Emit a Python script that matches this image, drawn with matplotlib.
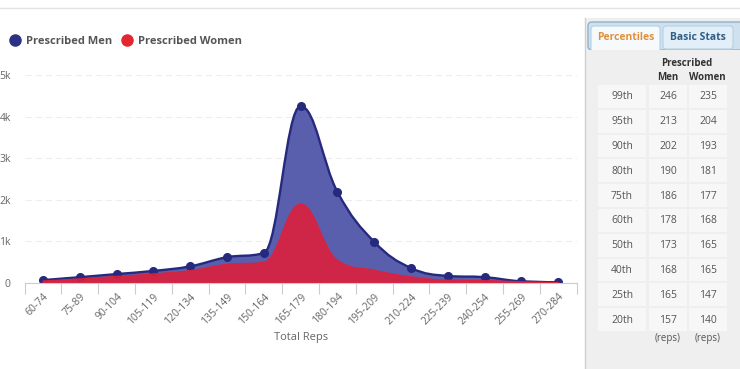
import numpy as np
import matplotlib
matplotlib.use('Agg')
import matplotlib.pyplot as plt
from matplotlib.path import Path
from matplotlib.patches import PathPatch, Rectangle, FancyBboxPatch

plt.rcParams['font.family'] = ['Open Sans', 'DejaVu Sans']

# data
cats = ['60-74', '75-89', '90-104', '105-119', '120-134', '135-149', '150-164',
        '165-179', '180-194', '195-209', '210-224', '225-239', '240-254',
        '255-269', '270-284']
men = [70, 140, 215, 290, 400, 620, 720, 4250, 2190, 990, 360, 170, 140, 40, 20]
women = [50, 100, 160, 220, 300, 450, 500, 1900, 550, 310, 150, 70, 60, 30, 15]
yticks = [0, 1000, 2000, 3000, 4000, 5000]
ytick_labels = ['0', '1k', '2k', '3k', '4k', '5k']

pct_labels = ['99th', '95th', '90th', '80th', '75th', '60th', '50th', '40th', '25th', '20th']
pct_men = [246, 213, 202, 190, 186, 178, 173, 168, 165, 157]
pct_women = [235, 204, 193, 181, 177, 168, 165, 165, 147, 140]

MEN_LINE = '#262a7e'
MEN_FILL = '#5a5fad'
WOM_FILL = '#e01f3a'


def spline_verts(xs, ys, smoothing=1.5):
    # highcharts-like spline: cubic bezier with control points per point
    n = len(xs)
    lc = [(xs[i], ys[i]) for i in range(n)]
    rc = [(xs[i], ys[i]) for i in range(n)]
    d = smoothing + 1
    for i in range(1, n - 1):
        px, py = xs[i], ys[i]
        lx, ly = xs[i - 1], ys[i - 1]
        nx, ny = xs[i + 1], ys[i + 1]
        lcx = (smoothing * px + lx) / d
        lcy = (smoothing * py + ly) / d
        rcx = (smoothing * px + nx) / d
        rcy = (smoothing * py + ny) / d
        corr = ((rcy - lcy) * (rcx - px)) / (rcx - lcx) + py - rcy
        lcy += corr; rcy += corr
        if lcy > ly and lcy > py:
            lcy = max(ly, py); rcy = 2 * py - lcy
        elif lcy < ly and lcy < py:
            lcy = min(ly, py); rcy = 2 * py - lcy
        if rcy > ny and rcy > py:
            rcy = max(ny, py); lcy = 2 * py - rcy
        elif rcy < ny and rcy < py:
            rcy = min(ny, py); lcy = 2 * py - rcy
        lc[i] = (lcx, lcy); rc[i] = (rcx, rcy)
    verts = [(xs[0], ys[0])]
    codes = [Path.MOVETO]
    for i in range(1, n):
        verts += [rc[i - 1], lc[i], (xs[i], ys[i])]
        codes += [Path.CURVE4] * 3
    return verts, codes


def area_patch(xs, ys, **kw):
    v, c = spline_verts(xs, ys)
    fv = v + [(xs[-1], 0), (xs[0], 0), (xs[0], 0)]
    fc = c + [Path.LINETO, Path.LINETO, Path.CLOSEPOLY]
    return PathPatch(Path(fv, fc), **kw)


def line_patch(xs, ys, **kw):
    v, c = spline_verts(xs, ys)
    return PathPatch(Path(v, c), facecolor='none', **kw)


W, H = 740, 369
fig = plt.figure(figsize=(W / 100, H / 100), dpi=100)

# plot area in pixels
x0, x1 = 24.6, 576.6
ytop, ybot = 75, 283
ax = fig.add_axes([x0 / W, 1 - ybot / H, (x1 - x0) / W, (ybot - ytop) / H])
xs = np.arange(len(cats))
ax.add_patch(area_patch(xs, men, facecolor=MEN_FILL, edgecolor='none', zorder=2))
ax.add_patch(line_patch(xs, men, edgecolor=MEN_LINE, lw=1.7, zorder=2.5))
ax.plot(xs, men, 'o', color=MEN_LINE, ms=5.5, zorder=3)
# women area sits on top of the men markers
ax.add_patch(area_patch(xs, women, facecolor=WOM_FILL, edgecolor=WOM_FILL, lw=0.8,
                        alpha=0.88, zorder=4))

ax.set_xlim(-0.5, len(cats) - 0.5)
ax.set_ylim(0, 5000)
ax.set_yticks(yticks)
ax.set_yticklabels(ytick_labels, fontsize=7.5, color='#666666')
ax.tick_params(axis='y', length=0, pad=10)
ax.set_xticks(xs)
ax.set_xticklabels(cats, rotation=45, ha='right', rotation_mode='anchor',
                   fontsize=7.5, color='#666666')
ax.tick_params(axis='x', length=0, pad=6)
ax.set_xticks(np.arange(len(cats) + 1) - 0.5, minor=True)
ax.tick_params(axis='x', which='minor', length=8, color='#cccccc', width=0.8)
ax.grid(axis='y', color='#eeeeee', lw=0.8, ls=(0, (6, 3)), zorder=0)
for s in ['top', 'right', 'left']:
    ax.spines[s].set_visible(False)
ax.spines['bottom'].set_color('#cccccc')
ax.spines['bottom'].set_zorder(6)
ax.set_xlabel('Total Reps', fontsize=8, color='#666666', labelpad=4)

# overlay in pixel coords for legend, frame and side panel
ov = fig.add_axes([0, 0, 1, 1], facecolor='none')
ov.set_xlim(0, W); ov.set_ylim(H, 0); ov.axis('off')
ov.plot([0, W], [8, 8], color='#e2e2e2', lw=1)

ov.plot(15, 40, 'o', color='#2c3184', ms=8)
ov.text(26, 41, 'Prescribed Men', fontsize=8, fontweight='bold', color='#555555', va='center')
ov.plot(127, 40, 'o', color='#e3262f', ms=8)
ov.text(138, 41, 'Prescribed Women', fontsize=8, fontweight='bold', color='#555555', va='center')

# side panel
ov.add_patch(Rectangle((585, 18), W - 585, H - 18, facecolor='#efefef', edgecolor='none'))
ov.plot([585, 585], [18, H], color='#cfcfcf', lw=1)
ov.add_patch(FancyBboxPatch((588, 22), 160, 28, boxstyle='round,pad=0,rounding_size=4',
                            facecolor='#cfe1ef', edgecolor='#8fb1cc', lw=1))
ov.add_patch(FancyBboxPatch((591, 26), 69, 26, boxstyle='round,pad=0,rounding_size=3',
                            facecolor='#f6fafd', edgecolor='#b7cfe2', lw=0.8))
ov.add_patch(FancyBboxPatch((663, 26), 70, 23, boxstyle='round,pad=0,rounding_size=3',
                            facecolor='#e3eff8', edgecolor='#b7cfe2', lw=0.8))
ov.add_patch(Rectangle((586, 50), W - 586, 4, facecolor='#efefef', edgecolor='none'))
ov.text(625.5, 37, 'Percentiles', fontsize=7.5, fontweight='bold', color='#e0913f',
        ha='center', va='center')
ov.text(698, 37, 'Basic Stats', fontsize=7.5, fontweight='bold', color='#2f5f86',
        ha='center', va='center')

ov.text(687, 63, 'Prescribed', fontsize=7, fontweight='bold', color='#333333', ha='center', va='center')
ov.text(668, 77, 'Men', fontsize=7, fontweight='bold', color='#333333', ha='center', va='center')
ov.text(707.5, 77, 'Women', fontsize=7, fontweight='bold', color='#333333', ha='center', va='center')

cols = [(598, 48), (649, 38), (689, 38)]
row0, rh = 85, 24.8
for i, (lab, m, w) in enumerate(zip(pct_labels, pct_men, pct_women)):
    yy = row0 + i * rh
    for (cx, cw), val in zip(cols, [lab, m, w]):
        ov.add_patch(Rectangle((cx, yy), cw, rh - 2, facecolor='#f7f7f7', edgecolor='none'))
        ov.text(cx + cw / 2, yy + (rh - 2) / 2 + 0.5, str(val), fontsize=7.5,
                color='#555555', ha='center', va='center')
ov.text(668, 339, '(reps)', fontsize=7, color='#555555', ha='center', va='center')
ov.text(708, 339, '(reps)', fontsize=7, color='#555555', ha='center', va='center')

fig.savefig('out.png', dpi=100)
